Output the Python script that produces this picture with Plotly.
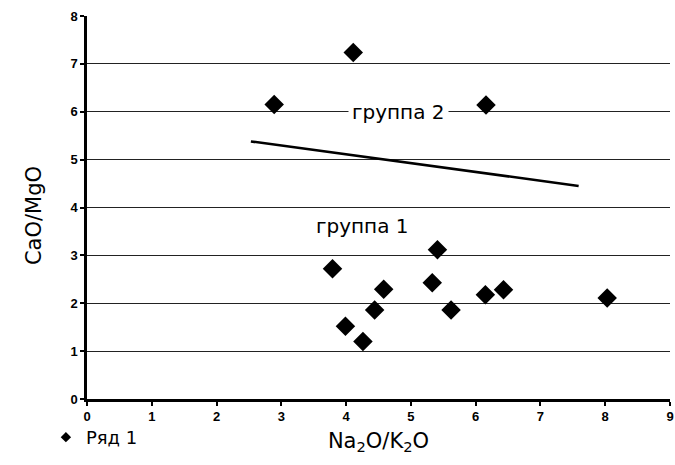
import plotly.graph_objects as go

# точки "Ряд 1"
na2o_k2o = [2.89, 4.11, 6.16, 3.79, 3.99, 4.26, 4.44, 4.58, 5.33, 5.41, 5.62, 6.15, 6.43, 8.03]
cao_mgo = [6.15, 7.24, 6.14, 2.72, 1.52, 1.20, 1.86, 2.29, 2.43, 3.12, 1.86, 2.18, 2.28, 2.11]

# граница между группами
line_x = [2.53, 7.59]
line_y = [5.38, 4.45]

group_labels = ["группа 2", "группа 1"]
group_x = [4.81, 4.26]
group_y = [6.0, 3.62]

x_ticks = list(range(0, 10))
y_ticks = list(range(0, 9))

fig = go.Figure()

fig.add_trace(go.Scatter(x=line_x, y=line_y, mode='lines',
                         line=dict(color='black', width=2.5),
                         showlegend=False, hoverinfo='skip'))

fig.add_trace(go.Scatter(x=na2o_k2o, y=cao_mgo, mode='markers',
                         showlegend=False,
                         marker=dict(symbol='diamond', size=15, color='black')))

# маленький ромб только для легенды
fig.add_trace(go.Scatter(x=[None], y=[None], mode='markers', name='Ряд 1',
                         marker=dict(symbol='diamond', size=8, color='black')))

for lab, gx, gy in zip(group_labels, group_x, group_y):
    fig.add_annotation(x=gx, y=gy, text=lab, showarrow=False,
                       font=dict(family='DejaVu Sans', size=20, color='black'),
                       bgcolor='white', borderpad=3)

# подпись оси Y отдельно (заголовок оси уезжает в headless-браузере)
fig.add_annotation(xref='paper', yref='paper', x=-0.115, y=0.48,
                   text='CaO/MgO', textangle=-90, showarrow=False,
                   font=dict(family='DejaVu Sans', size=21, color='black'))

fig.update_layout(
    width=675, height=465,
    margin=dict(l=87, r=5, t=16, b=66, autoexpand=False),
    paper_bgcolor='white', plot_bgcolor='white',
    font=dict(family='Arial', color='black'),
    showlegend=True,
    legend=dict(xref='container', yref='container', x=0.068, y=0.099,
                xanchor='left', yanchor='top',
                font=dict(family='DejaVu Sans', size=18, color='black'),
                bgcolor='rgba(0,0,0,0)'),
)

fig.update_xaxes(range=[0, 9], tickvals=x_ticks,
                 ticktext=[f'<b>{v}</b>' for v in x_ticks],
                 tickfont=dict(family='Arial', size=13, color='black'),
                 showgrid=False, zeroline=False,
                 showline=True, linecolor='black', linewidth=2.5,
                 ticks='outside', ticklen=4, tickwidth=1.5, tickcolor='black',
                 title=dict(text='Na<sub>2</sub>O/K<sub>2</sub>O',
                            font=dict(family='DejaVu Sans', size=21), standoff=10))

fig.update_yaxes(range=[0, 8], tickvals=y_ticks,
                 ticktext=[f'<b>{v}</b>' for v in y_ticks],
                 tickfont=dict(family='Arial', size=13, color='black'),
                 showgrid=True, gridcolor='#222222', gridwidth=1,
                 zeroline=False,
                 showline=True, linecolor='black', linewidth=2.5,
                 ticks='outside', ticklen=4, tickwidth=1.5, tickcolor='black')

fig.write_html("out.html", config={'displayModeBar': False},
               post_script="document.body.style.margin='0';")
